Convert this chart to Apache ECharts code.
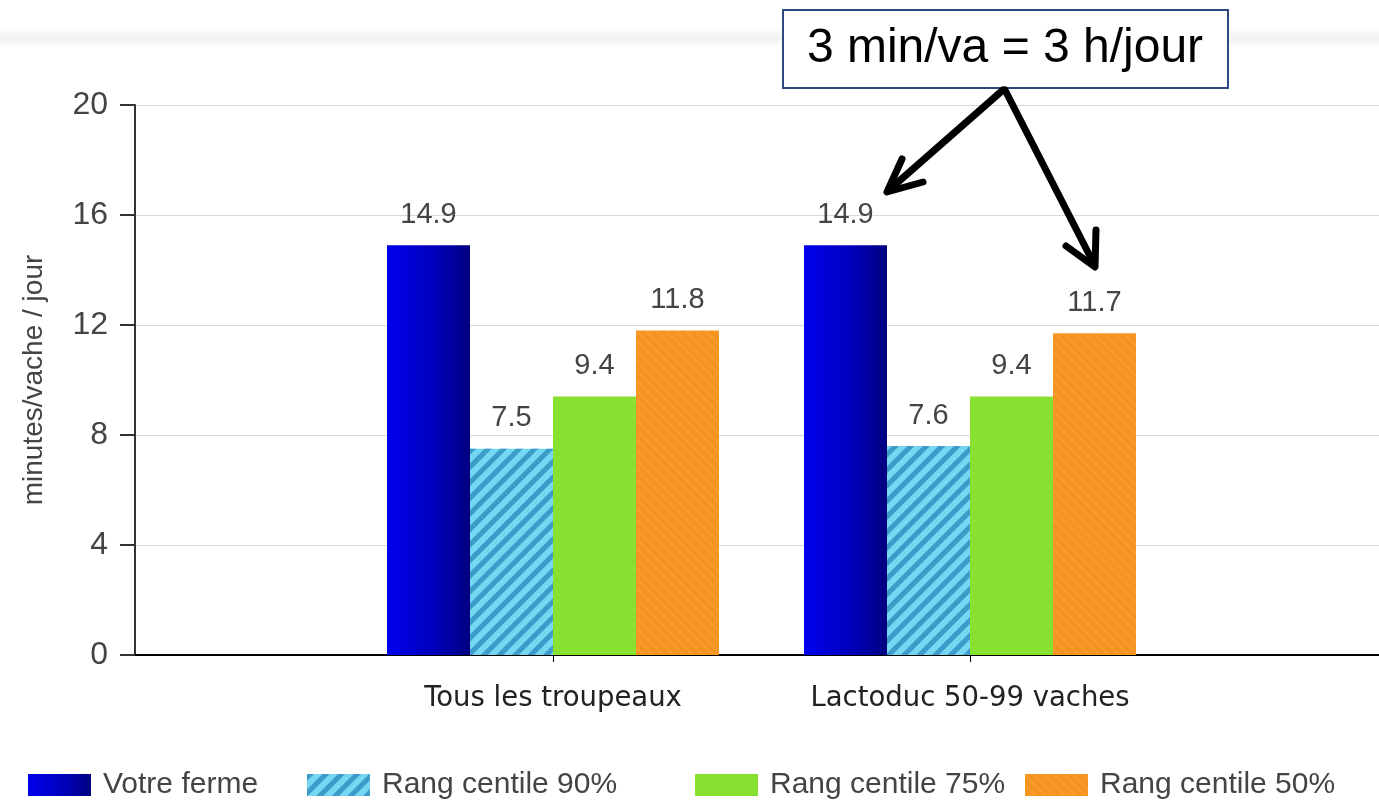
<!DOCTYPE html>
<html>
<head>
<meta charset="utf-8">
<script src="https://cdn.jsdelivr.net/npm/echarts@6/dist/echarts.min.js"></script>
<style>
html,body{margin:0;padding:0;background:#fff;}
#chart{width:1379px;height:805px;}
</style>
</head>
<body>
<div id="chart"></div>
<script>
// ---- data ----
const categories = ['Tous les troupeaux', 'Lactoduc 50-99 vaches'];
const seriesNames = ['Votre ferme', 'Rang centile 90%', 'Rang centile 75%', 'Rang centile 50%'];
const votreFerme = [14.9, 14.9];
const centile90 = [7.5, 7.6];
const centile75 = [9.4, 9.4];
const centile50 = [11.8, 11.7];
const yTicks = [0, 4, 8, 12, 16, 20];
const yAxisName = 'minutes/vache / jour';
const annotation = '3 min/va = 3 h/jour';

const SANS = '"Liberation Sans", Arial, sans-serif';
const XFONT = '"DejaVu Sans", sans-serif';

const chart = echarts.init(document.getElementById('chart'));

const blueGrad = {type:'linear', x:0, y:0, x2:1, y2:0, colorStops:[{offset:0,color:'#0000ee'},{offset:0.6,color:'#0000b8'},{offset:1,color:'#000080'}]};
const hatch = {symbol:'rect', symbolSize:1, dashArrayX:[[1,0]], dashArrayY:[5,6], rotation:-Math.PI/4, color:'#3a9cc8'};
const orangeDecal = {symbol:'rect', symbolSize:1, dashArrayX:[[1,0]], dashArrayY:[2,5], rotation:Math.PI/4, color:'rgba(255,185,100,0.25)'};

const labelCfg = {show:true, position:'top', distance:16, fontFamily:SANS, fontSize:29, color:'#444'};

function barSeries(name, data, itemStyle){
  return {name, type:'bar', xAxisIndex:1, yAxisIndex:1, data, barWidth:83, barGap:'0%',
    itemStyle, label:labelCfg, emphasis:{disabled:true}};
}

const legendPos = [23, 302, 690, 1020];

const option = {
  animation:false,
  backgroundColor:'#fff',
  grid:[
    {left:135, right:0, top:105, bottom:150},
    {left:344.5, width:834, top:105, bottom:150}
  ],
  legend: seriesNames.map((n,i)=>({
    data:[n], left:legendPos[i], top:765, itemWidth:63, itemHeight:22, icon:'rect',
    textStyle:{fontFamily:SANS, fontSize:30, color:'#444', padding:[0,0,0,7]}, selectedMode:false
  })),
  xAxis:[
    {type:'value', gridIndex:0, min:0, max:1, axisLine:{show:true, onZero:false, lineStyle:{color:'#000', width:2}},
      axisTick:{show:false}, axisLabel:{show:false}, splitLine:{show:false}},
    {type:'category', gridIndex:1, data:categories,
      axisLine:{show:false}, axisTick:{show:true, alignWithLabel:true, length:7, lineStyle:{color:'#000', width:1}},
      axisLabel:{fontFamily:XFONT, fontSize:27.5, color:'#222', margin:30}}
  ],
  yAxis:[
    {type:'value', gridIndex:0, min:0, max:20, interval:4,
      name:yAxisName, nameLocation:'middle', nameGap:87, nameTextStyle:{fontFamily:SANS, fontSize:28, color:'#444'},
      axisLine:{show:true, lineStyle:{color:'#333', width:2}},
      axisTick:{show:true, length:15, lineStyle:{color:'#333', width:2}},
      axisLabel:{fontFamily:SANS, fontSize:32, color:'#444', margin:27},
      splitLine:{show:true, lineStyle:{color:'#d9d9d9', width:1}}},
    {type:'value', gridIndex:1, min:0, max:20, interval:4, show:false, splitLine:{show:false}}
  ],
  series:[
    barSeries(seriesNames[0], votreFerme, {color:blueGrad}),
    barSeries(seriesNames[1], centile90, {color:'#76d7f3', decal:hatch}),
    barSeries(seriesNames[2], centile75, {color:'#88e030'}),
    barSeries(seriesNames[3], centile50, {color:'#f7931f', decal:orangeDecal})
  ],
  graphic:[
    {type:'rect', shape:{x:0, y:28, width:1379, height:20}, silent:true, z:-10,
      style:{fill:{type:'linear', x:0,y:0,x2:0,y2:1, colorStops:[{offset:0,color:'#fdfdfd'},{offset:0.5,color:'#f2f2f2'},{offset:1,color:'#ffffff'}]}}},
    {type:'rect', shape:{x:783, y:10, width:445, height:78}, z:100,
      style:{fill:'#fff', stroke:'#2c4a80', lineWidth:2}},
    {type:'text', x:1005, y:49, z:101,
      style:{text:annotation, fontFamily:SANS, fontSize:48, fill:'#000', align:'center', verticalAlign:'middle'}},
    {type:'polyline', z:101, shape:{points:[[1003,90],[889,190]]}, style:{stroke:'#000', lineWidth:7, lineCap:'round', fill:null}},
    {type:'polyline', z:101, shape:{points:[[902,159],[887,192],[923,182]]}, style:{stroke:'#000', lineWidth:7, lineCap:'round', lineJoin:'round', fill:null}},
    {type:'polyline', z:101, shape:{points:[[1005,90],[1094,264]]}, style:{stroke:'#000', lineWidth:7, lineCap:'round', fill:null}},
    {type:'polyline', z:101, shape:{points:[[1066,246],[1095,267],[1096,230]]}, style:{stroke:'#000', lineWidth:7, lineCap:'round', lineJoin:'round', fill:null}}
  ]
};
chart.setOption(option);
</script>
</body>
</html>
